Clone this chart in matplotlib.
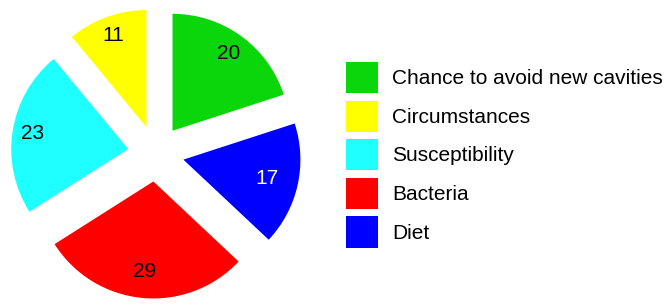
#pie chart of caries factors, exploded slices with side legend
import numpy as np
import matplotlib.pyplot as plt

labels = ['Chance to avoid new cavities', 'Circumstances', 'Susceptibility', 'Bacteria', 'Diet']
values = [20, 11, 23, 29, 17]
colors = ['#0ad70a', '#ffff00', '#1effff', '#ff0000', '#0000ff']
text_colors = ['black', 'black', 'black', 'black', 'white']
label_dist = [0.82, 0.83, 0.83, 0.77, 0.73]

plt.rcParams['font.family'] = ['Liberation Sans', 'DejaVu Sans']

fig = plt.figure(figsize=(6.69, 3.05), dpi=100)
W, H = 669, 305
cx, cy, r = 156, 305 - 153.5, 117
half = 1.3 * r
ax = fig.add_axes([(cx - half) / W, (cy - half) / H, 2 * half / W, 2 * half / H])

wedges, texts, autotexts = ax.pie(values, colors=colors, startangle=18, counterclock=True,
                                  explode=[0.24] * len(values), radius=1,
                                  autopct=lambda p: '%.0f' % p, pctdistance=0.82,
                                  textprops={'fontsize': 15})
for w, t, c, d in zip(wedges, autotexts, text_colors, label_dist):
    mid = np.deg2rad((w.theta1 + w.theta2) / 2)
    x0, y0 = w.center
    t.set_position((x0 + d * np.cos(mid), y0 + d * np.sin(mid)))
    t.set_color(c)

ax.set_xlim(-1.3, 1.3)
ax.set_ylim(-1.3, 1.3)
ax.set_aspect('auto')
ax.axis('off')

fig.legend(wedges, labels, loc='upper left', bbox_to_anchor=(346 / W, 1 - 62 / H),
           frameon=False, fontsize=15, handlelength=1.52, handleheight=1.92,
           labelspacing=0.36, handletextpad=0.71, borderpad=0, borderaxespad=0)

fig.savefig('out.png', dpi=100)
